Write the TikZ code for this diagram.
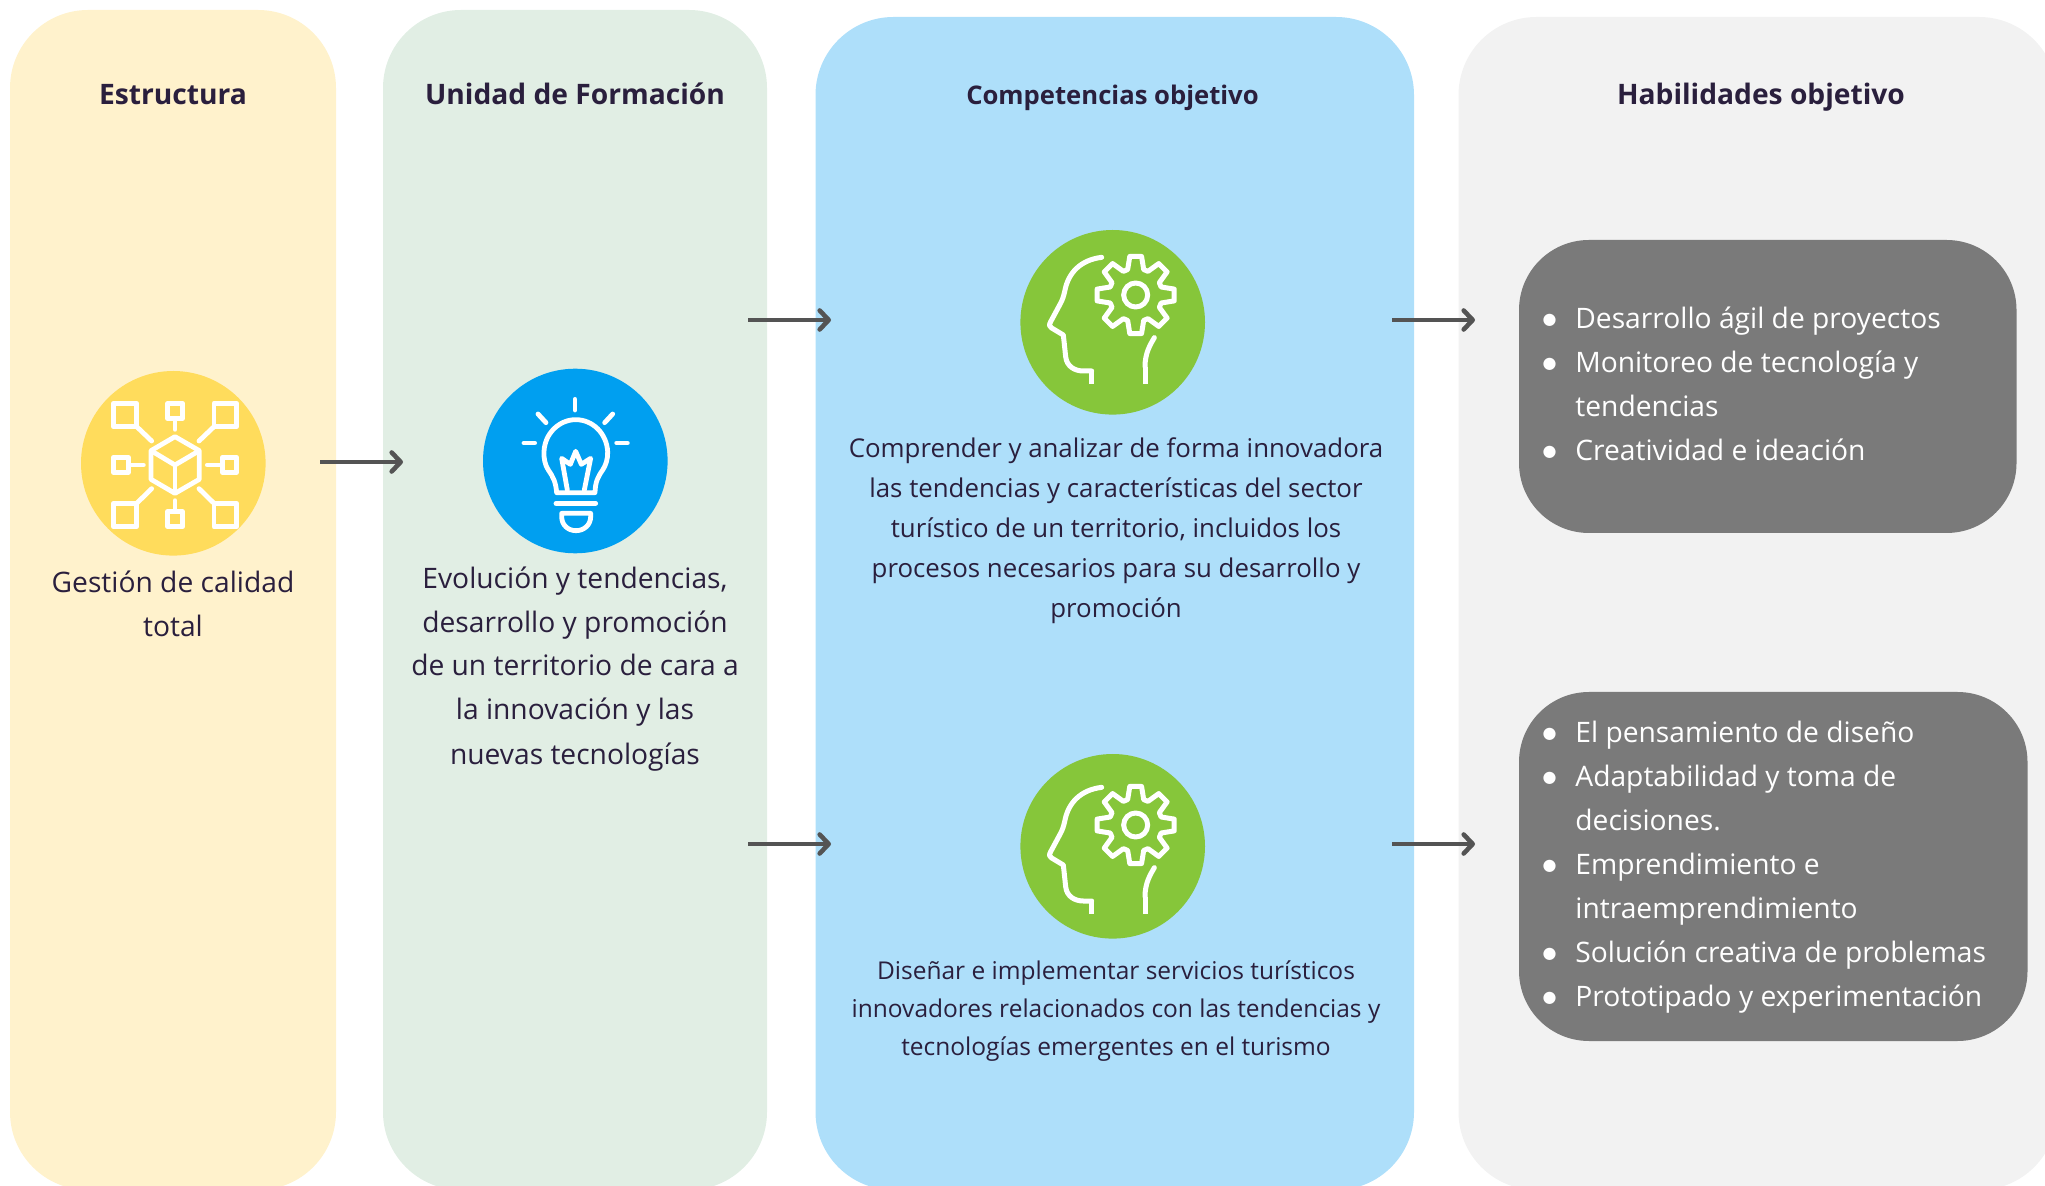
\documentclass[tikz,border=0pt]{standalone}
\usepackage{fontspec}
\setmainfont{Open Sans}
\newfontfamily\bulfont{DejaVu Sans}
\usetikzlibrary{arrows.meta}
\definecolor{ink}{HTML}{2A1F3D}
\definecolor{pyellow}{HTML}{FFF2CC}
\definecolor{pgreen}{HTML}{E1EEE4}
\definecolor{pblue}{HTML}{AEDFFA}
\definecolor{pgray}{HTML}{F2F2F2}
\definecolor{dark}{HTML}{7A7A7A}
\definecolor{cyellow}{HTML}{FFDC5C}
\definecolor{cblue}{HTML}{009FF0}
\definecolor{cgreen}{HTML}{86C63A}
\definecolor{arrowc}{HTML}{545454}
\tikzset{
  panel/.style={inner sep=0pt,outer sep=0pt,rounded corners=39pt},
  softbox/.style={inner sep=0pt,outer sep=0pt,fill=dark,rounded corners=35pt},
  disc/.style={circle,inner sep=0pt,outer sep=0pt,minimum size=92.3pt},
  header/.style={anchor=base,text=ink,font=\fontsize{14.1pt}{22pt}\selectfont\bfseries},
  body/.style={anchor=base,text=ink,align=center,font=\fontsize{14.1pt}{22pt}\selectfont},
  listing/.style={anchor=base west,text=white,align=left,inner sep=0pt,font=\fontsize{14.1pt}{22pt}\selectfont},
  link/.style={draw=arrowc,line width=2.3pt,-{Straight Barb[length=4.5pt,width=9.5pt,line width=2.3pt,round]}},
  icon/.style={draw=white,line width=2.4pt,line join=round,fill=none},
  iconr/.style={icon,line cap=round,line width=2.4pt},
  zoomed/.style={x=0.16667pt,y=-0.16667pt}
}
\newcommand{\lbul}{\makebox[16pt][l]{\hspace{-0.35pt}\raisebox{1.9pt}{\bulfont\fontsize{8pt}{8pt}\selectfont ●}}}
\newcommand{\lind}{\hspace*{16pt}}
\newcommand{\headicon}[1]{%
\begin{scope}[shift={(1000,#1)},zoomed]
  \draw[iconr,line width=2.5pt] (305,142) .. controls (240,150) and (205,190) .. (195,240) .. controls (190,262) and (188,268) .. (180,283) -- (152,335) .. controls (146,346) and (148,350) .. (155,354) -- (190,375) -- (197,440) .. controls (200,470) and (225,483) .. (250,483) -- (275,483);
  \draw[icon,line width=2.5pt] (275,483) -- (275,522);
  \draw[icon,line width=2.5pt] (435,522) -- (435,470);
  \draw[iconr,line width=2.5pt] (435,470) .. controls (435,430) and (450,405) .. (463,383);
  \draw[icon,line width=2.5pt] (407,255) circle (36);
  \draw[icon,line width=2.5pt,shift={(407,255)}] (-17.5:80)
    \foreach \a in {0,45,...,315} { -- ({\a-17.5}:80) -- ({\a-8.7}:117) -- ({\a+8.7}:117) -- ({\a+17.5}:80) } -- cycle;
\end{scope}}
\begin{document}
\begin{tikzpicture}[x=0.5pt,y=-0.5pt]
\useasboundingbox (0,0) rectangle (2045,1186);
\clip (0,0) rectangle (2045,1186);
% panels
\node[panel,fill=pyellow,minimum width=163pt,minimum height=590pt] (p1) at (173,600) {};
\node[panel,fill=pgreen,minimum width=192pt,minimum height=590pt] (p2) at (575,600) {};
\node[panel,fill=pblue,minimum width=299.25pt,minimum height=586.5pt] (p3) at (1114.75,603.5) {};
\node[panel,fill=pgray,minimum width=299.25pt,minimum height=586.5pt] (p4) at (1757.75,603.5) {};
\node[softbox,minimum width=248.75pt,minimum height=146.5pt] (b1) at (1767.75,386.5) {};
\node[softbox,minimum width=254.25pt,minimum height=174.5pt] (b2) at (1773.25,866.5) {};
% headers
\node[header] (h1) at (173,105) {Estructura};
\node[header] (h2) at (575,105) {Unidad de Formación};
\node[header,font=\fontsize{12.83pt}{20pt}\selectfont\bfseries] (h3) at (1112.5,105) {Competencias objetivo};
\node[header] (h4) at (1761,105) {Habilidades objetivo};
% discs
\node[disc,fill=cyellow] (c1) at (173.3,463.3) {};
\node[disc,fill=cblue] (c2) at (575.3,461) {};
\node[disc,fill=cgreen] (c3) at (1112.7,322.3) {};
\node[disc,fill=cgreen] (c4) at (1112.7,846.3) {};
% network icon
\begin{scope}[shift={(60,350)},zoomed]
  \draw[icon] (160,160) rectangle (230,230);
  \draw[icon] (462,160) rectangle (530,230);
  \draw[icon] (160,460) rectangle (230,530);
  \draw[icon] (462,460) rectangle (530,530);
  \draw[icon] (323,160) rectangle (368,205);
  \draw[icon] (160,322) rectangle (205,367);
  \draw[icon] (487,322) rectangle (530,367);
  \draw[icon] (323,485) rectangle (368,530);
  \draw[iconr] (230,230) -- (275,273);
  \draw[iconr] (462,230) -- (417,273);
  \draw[iconr] (230,460) -- (275,416);
  \draw[iconr] (462,460) -- (417,416);
  \draw[iconr] (345,205) -- (345,238);
  \draw[iconr] (345,452) -- (345,485);
  \draw[iconr] (205,345) -- (250,345);
  \draw[iconr] (442,345) -- (487,345);
  \draw[icon] (345,260) -- (418,302) -- (418,388) -- (345,430) -- (273,388) -- (273,302) -- cycle;
  \draw[icon] (273,302) -- (345,345) -- (418,302);
  \draw[icon] (345,345) -- (345,430);
\end{scope}
% bulb icon
\begin{scope}[shift={(460,350)},zoomed]
  \draw[iconr] (345,148) -- (345,180);
  \draw[iconr] (234,192) -- (258,218);
  \draw[iconr] (458,192) -- (434,218);
  \draw[iconr] (192,279) -- (224,279);
  \draw[iconr] (470,279) -- (502,279);
  \draw[iconr] (290,428) .. controls (287,395) and (280,382) .. (265,360) .. controls (255,345) and (251,325) .. (252,305) .. controls (254,250) and (298,209) .. (347,209) .. controls (398,209) and (440,250) .. (443,305) .. controls (444,325) and (438,345) .. (428,360) .. controls (413,382) and (406,395) .. (405,428) -- cycle;
  \draw[iconr] (322,420) -- (305,325) -- (331,343) -- (347,304) -- (364,343) -- (392,325) -- (373,420);
  \draw[iconr] (288,460) -- (407,460);
  \draw[iconr] (305,490) -- (392,490) -- (392,500) .. controls (392,525) and (372,542) .. (348,542) .. controls (324,542) and (305,525) .. (305,500) -- cycle;
\end{scope}
\headicon{210}
\headicon{740}
% body text
\node[body] (t1) at (173,637) {Gestión de calidad\\total};
\node[body] (t2) at (575,764) {Evolución y tendencias,\\desarrollo y promoción\\de un territorio de cara a\\la innovación y las\\nuevas tecnologías};
\node[body,font=\fontsize{12.92pt}{20pt}\selectfont] (t3) at (1116,618) {Comprender y analizar de forma innovadora\\las tendencias y características del sector\\turístico de un territorio, incluidos los\\procesos necesarios para su desarrollo y\\promoción};
\node[body,font=\fontsize{12.25pt}{19pt}\selectfont] (t4) at (1116,1055) {Diseñar e implementar servicios turísticos\\innovadores relacionados con las tendencias y\\tecnologías emergentes en el turismo};
\node[listing] (l1) at (1543,460.5) {\lbul Desarrollo ágil de proyectos\\\lbul Monitoreo de tecnología y\\\lind tendencias\\\lbul Creatividad e ideación};
\node[listing] (l2) at (1543,1006) {\lbul El pensamiento de diseño\\\lbul Adaptabilidad y toma de\\\lind decisiones.\\\lbul Emprendimiento e\\\lind intraemprendimiento\\\lbul Solución creativa de problemas\\\lbul Prototipado y experimentación};
% connectors
\coordinate (a1s) at (320,462); \coordinate (a1e) at (403,462);
\coordinate (a2s) at (748,320); \coordinate (a2e) at (831,320);
\coordinate (a3s) at (748,844); \coordinate (a3e) at (831,844);
\coordinate (a4s) at (1392,320); \coordinate (a4e) at (1475,320);
\coordinate (a5s) at (1392,844); \coordinate (a5e) at (1475,844);
\draw[link] (a1s) -- (a1e);
\draw[link] (a2s) -- (a2e);
\draw[link] (a3s) -- (a3e);
\draw[link] (a4s) -- (a4e);
\draw[link] (a5s) -- (a5e);
\end{tikzpicture}
\end{document}
